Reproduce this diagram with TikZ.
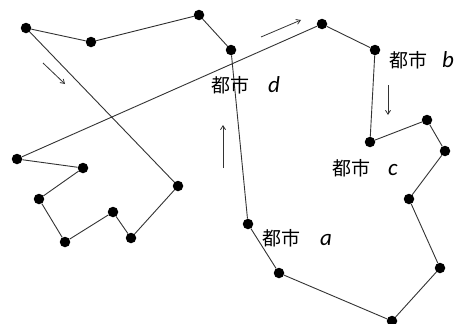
\documentclass[tikz,border=0pt]{standalone}
\usepackage{fontspec}
\newfontfamily\cjk{Noto Sans CJK JP}
\newfontfamily\lat{Carlito}
\usetikzlibrary{arrows.meta}
\begin{document}
\begin{tikzpicture}[x=1pt,y=-1pt,
  city/.style={circle,fill=black,inner sep=0pt,minimum size=10.5pt},
  tour/.style={draw=black!80,line width=0.9pt},
  dirarrow/.style={draw=black!80,line width=0.8pt,-{Straight Barb[length=4pt,width=5pt]}},
  lbl/.style={anchor=west,inner sep=0pt,font=\fontsize{19}{22}\selectfont}]
\useasboundingbox (0,0) rectangle (461,324);
\node[city] (p1) at (26,28) {};
\node[city] (p2) at (91,42) {};
\node[city] (p3) at (199,15) {};
\node[city] (p4) at (231,50) {};
\node[city] (p5) at (322,24) {};
\node[city] (p6) at (375,50) {};
\node[city] (p7) at (370,142) {};
\node[city] (p8) at (427,120) {};
\node[city] (p9) at (445,151) {};
\node[city] (p10) at (409,199) {};
\node[city] (p11) at (440,268) {};
\node[city] (p12) at (392,321) {};
\node[city] (p13) at (279,273) {};
\node[city] (p14) at (248,224) {};
\node[city] (p15) at (178,186) {};
\node[city] (p16) at (131,238) {};
\node[city] (p17) at (113,212) {};
\node[city] (p18) at (65,242) {};
\node[city] (p19) at (39,199) {};
\node[city] (p20) at (83,168) {};
\node[city] (p21) at (17,159) {};
\draw[tour] (p1) -- (p2) -- (p3) -- (p4) -- (p14) -- (p13) -- (p12) -- (p11)
  -- (p10) -- (p9) -- (p8) -- (p7) -- (p6) -- (p5) -- (p21) -- (p20) -- (p19)
  -- (p18) -- (p17) -- (p16) -- (p15) -- (p1);
\tikzset{itl/.style={}}
\newcommand\lettr[1]{{\lat\itshape\fontsize{23}{26}\selectfont #1}}
\node[lbl] (ld) at (211,85) {{\cjk 都市}\hspace{19pt}\lettr{d}};
\node[lbl] (lb) at (389,60) {{\cjk 都市}\hspace{15pt}\lettr{b}};
\node[lbl] (lc) at (332,168) {{\cjk 都市}\hspace{18pt}\lettr{c}};
\node[lbl] (la) at (262,238) {{\cjk 都市}\hspace{20pt}\lettr{a}};
\coordinate (a1s) at (43,63); \coordinate (a1e) at (65,84);
\coordinate (a2s) at (261,37); \coordinate (a2e) at (301,20);
\coordinate (a3s) at (388,85); \coordinate (a3e) at (388,115);
\coordinate (a4s) at (223,168); \coordinate (a4e) at (223,125);
\draw[dirarrow] (a1s) -- (a1e);
\draw[dirarrow] (a2s) -- (a2e);
\draw[dirarrow] (a3s) -- (a3e);
\draw[dirarrow] (a4s) -- (a4e);
\end{tikzpicture}
\end{document}
